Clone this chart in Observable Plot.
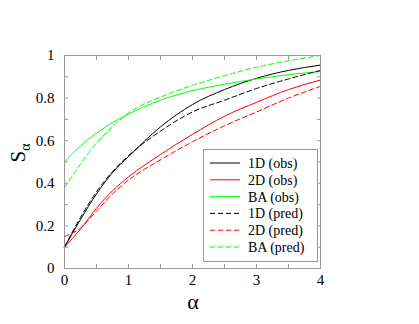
<!DOCTYPE html>
<html>
<head>
<meta charset="utf-8">
<script src="https://cdn.jsdelivr.net/npm/d3@7"></script>
<script src="https://cdn.jsdelivr.net/npm/@observablehq/plot@0.6"></script>
<style>
  html, body { margin: 0; padding: 0; background: #fff; }
  #chart { width: 419px; height: 324px; }
</style>
</head>
<body>
<div id="chart"></div>
<script>
// alpha grid (x)
const alpha = [0, 0.25, 0.5, 0.75, 1, 1.5, 2, 2.5, 3, 3.5, 4];
// series values
const obs1D  = [0.10, 0.23, 0.35, 0.45, 0.525, 0.665, 0.77, 0.84, 0.893, 0.93, 0.955];
const obs2D  = [0.10, 0.185, 0.283, 0.365, 0.43, 0.535, 0.63, 0.715, 0.78, 0.84, 0.885];
const obsBA  = [0.50, 0.575, 0.635, 0.685, 0.725, 0.79, 0.835, 0.865, 0.89, 0.91, 0.925];
const pred1D = [0.10, 0.24, 0.36, 0.455, 0.53, 0.645, 0.735, 0.79, 0.845, 0.89, 0.93];
const pred2D = [0.15, 0.19, 0.27, 0.35, 0.415, 0.51, 0.595, 0.67, 0.735, 0.80, 0.855];
const predBA = [0.38, 0.49, 0.59, 0.665, 0.73, 0.805, 0.86, 0.905, 0.945, 0.975, 1.0];

const seriesNames  = ["1D (obs)", "2D (obs)", "BA (obs)", "1D (pred)", "2D (pred)", "BA (pred)"];
const seriesValues = [obs1D, obs2D, obsBA, pred1D, pred2D, predBA];
const seriesColors = ["#000000", "#ff0000", "#00ff00", "#000000", "#ff0000", "#00ff00"];
const seriesDashed = [false, false, false, true, true, true];

const xLabels = [0, 1, 2, 3, 4];
const yLabels = [0, 0.2, 0.4, 0.6, 0.8, 1];
const xMinor = d3.range(0, 4.0001, 0.5);
const yMinor = d3.range(0, 1.0001, 0.1);

const DASH = "5,3";
const FONT = "'Liberation Serif', 'DejaVu Serif', serif";
const noText = () => "";

const lineMarks = seriesNames.map((name, i) =>
  Plot.line(alpha.map((a, j) => ({a, s: seriesValues[i][j]})), {
    x: "a", y: "s",
    stroke: seriesColors[i],
    strokeWidth: 1,
    strokeDasharray: seriesDashed[i] ? DASH : null,
    curve: "monotone-x"
  })
);

const plot = Plot.plot({
  width: 419,
  height: 324,
  marginLeft: 64,
  marginRight: 99,
  marginTop: 55,
  marginBottom: 56,
  style: {fontFamily: FONT, background: "#fff", color: "#000"},
  x: {domain: [0, 4]},
  y: {domain: [0, 1]},
  marks: [
    ...lineMarks,
    Plot.frame({stroke: "#999", strokeWidth: 1}),
    // inward minor/major ticks on all four sides
    Plot.axisX({anchor: "bottom", ticks: xMinor, tickSize: -4, tickFormat: noText, label: null, stroke: "#999"}),
    Plot.axisX({anchor: "top", ticks: xMinor, tickSize: -4, tickFormat: noText, label: null, stroke: "#999"}),
    Plot.axisY({anchor: "left", ticks: yMinor, tickSize: -4, tickFormat: noText, label: null, stroke: "#999"}),
    Plot.axisY({anchor: "right", ticks: yMinor, tickSize: -4, tickFormat: noText, label: null, stroke: "#999"}),
    // tick labels
    Plot.axisX({anchor: "bottom", ticks: xLabels, tickSize: 0, tickPadding: 6, fontSize: 15, label: null, tickFormat: d => String(d)}),
    Plot.axisY({anchor: "left", ticks: yLabels, tickSize: 0, tickPadding: 10, fontSize: 15, label: null, tickFormat: d => String(d)})
  ]
});

document.getElementById("chart").appendChild(plot);

const svg = d3.select(plot);

// x axis label
svg.append("text")
  .attr("x", 193).attr("y", 309)
  .attr("text-anchor", "middle")
  .attr("font-family", FONT)
  .attr("font-size", 22)
  .attr("fill", "#000")
  .text("α");

// y axis label S_alpha (rotated)
const yl = svg.append("text")
  .attr("transform", "translate(25,153) rotate(-90)")
  .attr("text-anchor", "middle")
  .attr("font-family", FONT)
  .attr("font-size", 21)
  .attr("fill", "#000");
yl.append("tspan").text("S");
yl.append("tspan").attr("font-size", 14).attr("dy", 5).text("α");

// legend
const lg = svg.append("g");
lg.append("rect")
  .attr("x", 203.5).attr("y", 149.5)
  .attr("width", 114).attr("height", 112)
  .attr("fill", "#fff").attr("stroke", "#999").attr("stroke-width", 1);
seriesNames.forEach((name, i) => {
  const yy = 163 + i * 16.8;
  lg.append("line")
    .attr("x1", 210).attr("x2", 240)
    .attr("y1", yy).attr("y2", yy)
    .attr("stroke", seriesColors[i])
    .attr("stroke-width", 1)
    .attr("stroke-dasharray", seriesDashed[i] ? DASH : null);
  lg.append("text")
    .attr("x", 248).attr("y", yy)
    .attr("dy", "0.35em")
    .attr("text-anchor", "start")
    .attr("font-family", FONT)
    .attr("font-size", 14)
    .attr("fill", "#000")
    .text(name);
});
</script>
</body>
</html>
